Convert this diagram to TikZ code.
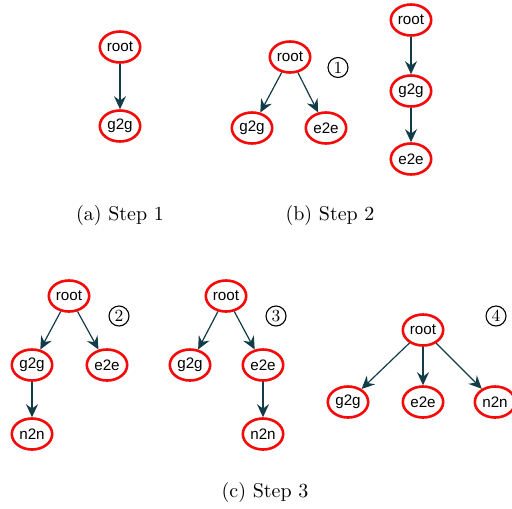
\documentclass[tikz,border=0pt]{standalone}
\usepackage{fontspec}
\newfontfamily\nodefont{Liberation Sans}
\usetikzlibrary{shapes.geometric,arrows.meta}
\definecolor{edgecol}{RGB}{18,60,72}
\definecolor{nodered}{RGB}{245,10,10}
\tikzset{
  tn/.style={ellipse, draw=nodered, line width=1.3pt, minimum width=20.2pt, minimum height=15.5pt, inner sep=0pt, font=\nodefont\fontsize{7.6}{8}\selectfont},
  ed/.style={draw=edgecol, line width=0.6pt, -{Stealth[length=6.5pt,width=6pt,inset=2.2pt]}},
  cnum/.style={circle, draw, line width=0.55pt, minimum size=10pt, inner sep=0pt, font=\fontsize{8.5}{9}\selectfont},
  captext/.style={font=\fontsize{10}{12}\selectfont}
}
\begin{document}
\begin{tikzpicture}[x=0.5pt,y=-0.5pt]
\useasboundingbox (0,0) rectangle (512,508);
% (a)
\node[tn] (ar) at (120,47) {root};
\node[tn] (ag) at (120,126) {g2g};
\draw[ed] (ar) -- (ag);
\node[captext] (capa) at (120,215) {(a) Step 1};
% (b) left
\node[tn] (br) at (290,57) {root};
\node[tn] (bg) at (252,128) {g2g};
\node[tn] (be) at (326,128) {e2e};
\draw[ed] (br) -- (bg);
\draw[ed] (br) -- (be);
\node[cnum] (n1) at (338,67.5) {1};
% (b) right
\node[tn] (cr) at (411,20) {root};
\node[tn] (cg) at (411,91) {g2g};
\node[tn] (ce) at (411,159) {e2e};
\draw[ed] (cr) -- (cg);
\draw[ed] (cg) -- (ce);
\node[captext] (capb) at (330,215) {(b) Step 2};
% (c) 1
\node[tn] (dr) at (69,296) {root};
\node[tn] (dg) at (32,365) {g2g};
\node[tn] (de) at (107,365) {e2e};
\node[tn] (dn) at (32,434) {n2n};
\draw[ed] (dr) -- (dg);
\draw[ed] (dr) -- (de);
\draw[ed] (dg) -- (dn);
\node[cnum] (n2) at (119,316) {2};
% (c) 2
\node[tn] (er) at (226,296) {root};
\node[tn] (eg) at (190,365) {g2g};
\node[tn] (ee) at (263,365) {e2e};
\node[tn] (en) at (263,434) {n2n};
\draw[ed] (er) -- (eg);
\draw[ed] (er) -- (ee);
\draw[ed] (ee) -- (en);
\node[cnum] (n3) at (276,316) {3};
% (c) 3
\node[tn] (fr) at (423,330) {root};
\node[tn] (fg) at (348,402) {g2g};
\node[tn] (fe) at (423,402) {e2e};
\node[tn] (fn) at (495,402) {n2n};
\draw[ed] (fr) -- (fg);
\draw[ed] (fr) -- (fe);
\draw[ed] (fr) -- (fn);
\node[cnum] (n4) at (496,316) {4};
\node[captext] (capc) at (265,492) {(c) Step 3};
\end{tikzpicture}
\end{document}
